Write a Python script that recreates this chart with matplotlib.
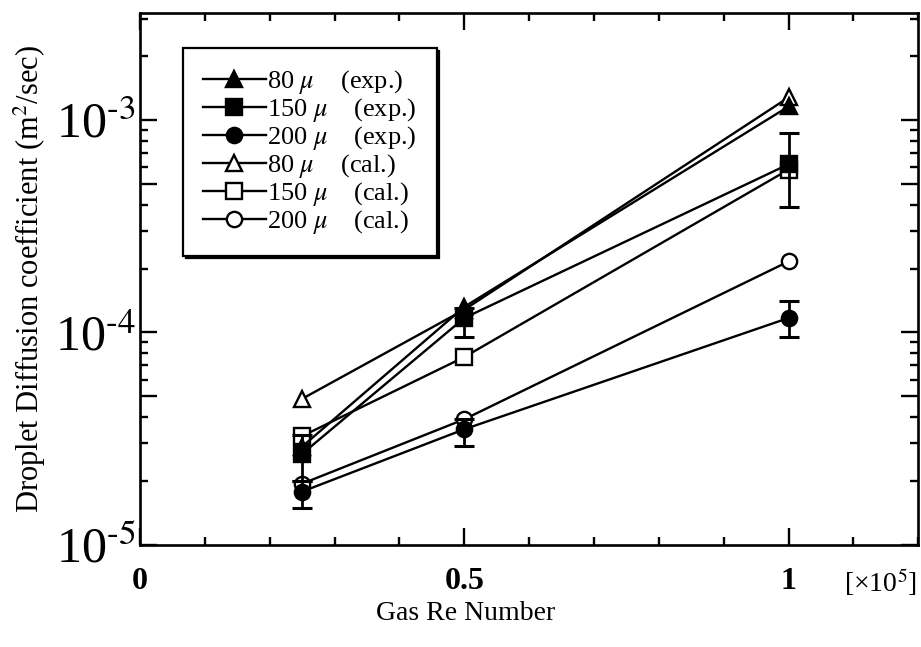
import numpy as np
import matplotlib
matplotlib.use('Agg')
import matplotlib.pyplot as plt
from matplotlib.ticker import LogLocator, FuncFormatter, MultipleLocator, FixedLocator

plt.rcParams['font.family'] = ['Liberation Serif', 'DejaVu Serif']
plt.rcParams['mathtext.fontset'] = 'stix'

# Gas Re number [x10^5]
re_num = [0.25, 0.5, 1.0]

# experiment (filled markers)
exp_80 = [2.9e-5, 1.32e-4, 1.16e-3]
exp_150 = [2.68e-5, 1.17e-4, 6.2e-4]
exp_200 = [1.78e-5, 3.5e-5, 1.17e-4]
err_150_lo = [2.0e-5, 9.5e-5, 3.9e-4]
err_150_hi = [3.3e-5, 1.3e-4, 8.7e-4]
err_200_lo = [1.49e-5, 2.92e-5, 9.5e-5]
err_200_hi = [2.0e-5, 3.9e-5, 1.41e-4]

# calculation (open markers)
cal_80 = [4.87e-5, 1.28e-4, 1.28e-3]
cal_150 = [3.25e-5, 7.66e-5, 5.85e-4]
cal_200 = [1.94e-5, 3.9e-5, 2.16e-4]

labels = ['80 $\\mu$    (exp.)', '150 $\\mu$    (exp.)', '200 $\\mu$    (exp.)',
          '80 $\\mu$    (cal.)', '150 $\\mu$    (cal.)', '200 $\\mu$    (cal.)']

fig = plt.figure(figsize=(9.21, 6.47), dpi=100)
ax = fig.add_axes([0.152, 0.158, 0.845, 0.822])

lw = 1.7
ms = 11
style = dict(color='black', lw=lw, ms=ms, mew=1.7)

# calculated lines first so the filled ones sit on top
h_c80, = ax.plot(re_num, cal_80, marker='^', mfc='white', zorder=3, **style)
h_c150, = ax.plot(re_num, cal_150, marker='s', mfc='white', zorder=3, **style)
h_c200, = ax.plot(re_num, cal_200, marker='o', mfc='white', zorder=3, **style)

h_e80, = ax.plot(re_num, exp_80, marker='^', mfc='black', zorder=4, **style)
e150 = np.array(exp_150)
e200 = np.array(exp_200)
ax.errorbar(re_num, exp_150, yerr=[e150 - np.array(err_150_lo), np.array(err_150_hi) - e150],
            fmt='none', ecolor='black', elinewidth=2, capsize=7, capthick=2.2, zorder=4)
ax.errorbar(re_num, exp_200, yerr=[e200 - np.array(err_200_lo), np.array(err_200_hi) - e200],
            fmt='none', ecolor='black', elinewidth=2, capsize=7, capthick=2.2, zorder=4)
h_e150, = ax.plot(re_num, exp_150, marker='s', mfc='black', zorder=5, **style)
h_e200, = ax.plot(re_num, exp_200, marker='o', mfc='black', zorder=5, **style)

ax.set_yscale('log')
ax.set_xlim(0, 1.2)
ax.set_ylim(1e-5, 3.2e-3)


def dec_label(v, pos):
    e = int(round(np.log10(v)))
    if not np.isclose(v, 10.0 ** e):
        return ''
    return '10$^{\\mathrm{%s}}$' % ('\\text{-}%d' % -e if e < 0 else '%d' % e)


ax.xaxis.set_major_locator(FixedLocator([0, 0.5, 1.0]))
ax.xaxis.set_minor_locator(MultipleLocator(0.1))
ax.set_xticklabels(['0', '0.5', '1'], fontweight='bold')
ax.yaxis.set_major_locator(LogLocator(base=10, subs=(1.0, 5.0)))
ax.yaxis.set_major_formatter(FuncFormatter(dec_label))
ax.yaxis.set_minor_locator(LogLocator(base=10, subs=(2, 3, 4, 6, 7, 8, 9)))
ax.yaxis.set_minor_formatter(plt.NullFormatter())

ax.tick_params(which='both', direction='in', top=True, right=True, width=1.7)
ax.tick_params(which='major', length=12)
ax.tick_params(which='minor', length=6)
ax.tick_params(axis='y', which='major', labelsize=36, pad=3)
ax.tick_params(axis='x', which='major', labelsize=23, pad=16)
for s in ax.spines.values():
    s.set_linewidth(1.9)

ax.set_ylabel('Droplet Diffusion coefficient (m$^2$/sec)', fontsize=22)
ax.yaxis.set_label_coords(-0.118, 0.5)
ax.set_xlabel('Gas Re Number', fontsize=20)
ax.xaxis.set_label_coords(0.418, -0.105)
fig.text(0.996, 0.1, '[×10$^5$]', fontsize=20, ha='right', va='center')

leg = ax.legend([h_e80, h_e150, h_e200, h_c80, h_c150, h_c200], labels,
                loc='upper left', bbox_to_anchor=(0.055, 0.934), borderaxespad=0,
                fontsize=19, labelspacing=0.0, handlelength=2.4, handletextpad=0.05,
                borderpad=0.75, fancybox=False, framealpha=1,
                shadow={'color': 'black', 'alpha': 1})
leg.get_frame().set_edgecolor('black')
leg.get_frame().set_linewidth(1.6)

fig.savefig('out.png', dpi=100)
